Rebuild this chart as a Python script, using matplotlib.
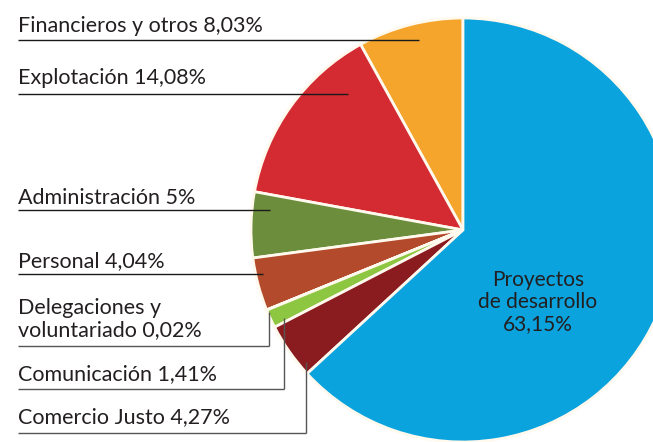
import matplotlib
matplotlib.use('Agg')
import matplotlib.pyplot as plt

# budget shares, counterclockwise from the top
labels = ['Financieros y otros 8,03%', 'Explotación 14,08%', 'Administración 5%',
          'Personal 4,04%', 'Delegaciones y\nvoluntariado 0,02%', 'Comunicación 1,41%',
          'Comercio Justo 4,27%', 'Proyectos\nde desarrollo\n63,15%']
values = [8.03, 14.08, 5.0, 4.04, 0.02, 1.41, 4.27, 63.15]
colors = ['#f5a52b', '#d42b33', '#6b8d3c', '#b24a2b', '#8dc641', '#8dc641', '#8a1c1f', '#0aa3de']

W, H = 653, 442
def Y(y):
    # image rows -> data y
    return H - y

fig = plt.figure(figsize=(W / 100, H / 100), dpi=100)
ax = fig.add_axes([0, 0, 1, 1])

cx, cy, r = 463, 230, 212
ax.pie(values, colors=colors, startangle=90, counterclock=True,
       center=(cx, Y(cy)), radius=r,
       wedgeprops=dict(edgecolor='#fff9ee', linewidth=2.0))
ax.set_xlim(0, W)
ax.set_ylim(0, H)
ax.axis('off')

font = dict(family=['Lato', 'DejaVu Sans'], color='#231f20')
txt_x = 18

# label text baselines and leader lines (image rows)
# (text baseline, underline y, underline end x, vertical top y or None)
layout = [
    (32, 40, 419, None),
    (84, 94, 348, None),
    (204, 210, 270, None),
    (267, 274, 263, None),
    (336, 346, 269, 312),
    (380, 389, 284, 318),
    (423, 433, 306, 362),
]
for i, (tb, ly, lx, vtop) in enumerate(layout):
    ax.text(txt_x, Y(tb), labels[i], ha='left', va='baseline',
            linespacing=1.1, fontsize=15.5, **font)
    lc = '#1a1a1a' if vtop is None else '#555555'
    ax.plot([txt_x, lx], [Y(ly), Y(ly)], color=lc, lw=1.0, solid_capstyle='butt')
    if vtop is not None:
        ax.plot([lx, lx], [Y(ly), Y(vtop)], color=lc, lw=1.0, solid_capstyle='butt')

ax.text(538, Y(302), labels[7], ha='center', va='center', linespacing=1.1,
        fontsize=15, **font)

fig.savefig('out.png', dpi=100)
